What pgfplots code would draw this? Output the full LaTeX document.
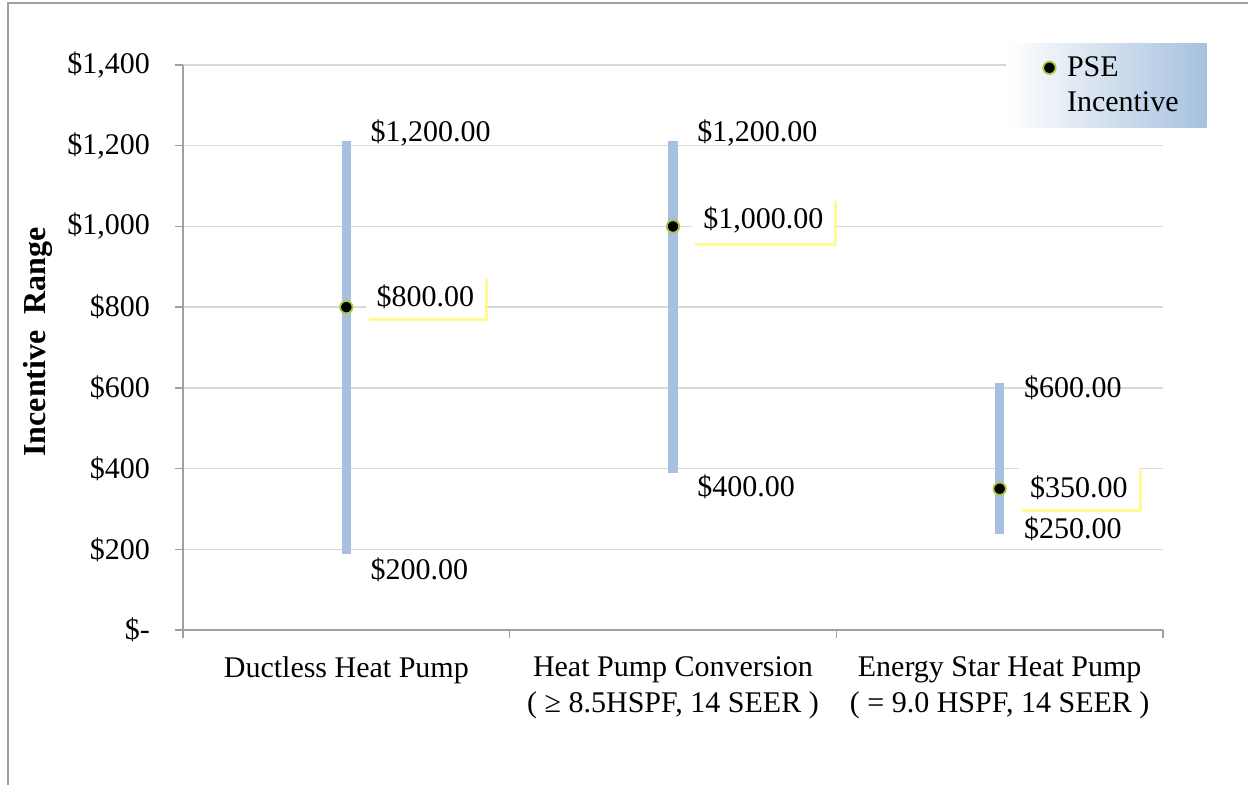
\documentclass[border=0pt]{standalone}
\usepackage{fontspec}
\setmainfont{Liberation Serif}
\usepackage{pgfplots}
\pgfplotsset{compat=1.18}
\usepackage{pgfplotstable}
\usetikzlibrary{shadows}

\definecolor{rangeblue}{RGB}{167,192,224}
\definecolor{gridgray}{RGB}{217,217,217}
\definecolor{axisgray}{RGB}{160,160,160}
\definecolor{dotrim}{RGB}{172,198,64}
\definecolor{legendblue}{RGB}{166,193,222}
\definecolor{glow}{RGB}{255,248,110}

% upper end of each incentive range (dy = vertical label offset in pt)
\pgfplotstableread{
x y dy
0 1200 6.5
1 1200 6.5
2 600 0
}\hightable
% lower end of each incentive range
\pgfplotstableread{
x y dy
0 200 -10
1 400 -9
2 250 0
}\lowtable
% PSE incentive
\pgfplotstableread{
x y dy
0 800 5
1 1000 3
2 350 0.5
}\psetable

\newcommand{\money}{\$\pgfmathprintnumber[fixed,fixed zerofill,precision=2,1000 sep={,}]{\pgfplotspointmeta}}

\begin{document}
\begin{tikzpicture}[font=\fontsize{15}{18}\selectfont]
\useasboundingbox (0,0) rectangle (624pt,392pt);
\draw[axisgray, line width=0.8pt] (4pt,-20pt) rectangle (660pt,390.5pt);
\begin{axis}[
  at={(91.5pt,77pt)}, anchor=south west,
  scale only axis, width=490pt, height=282.5pt,
  xmin=-0.5, xmax=2.5, ymin=0, ymax=1400,
  axis x line*=bottom, axis y line*=left,
  axis line style={axisgray, line width=0.7pt, -},
  tick align=outside, major tick length=4pt,
  tick style={axisgray, line width=0.7pt},
  xtick={-0.5,0.5,1.5,2.5}, xticklabels={,,,},
  extra x ticks={0,1,2},
  extra x tick labels={Ductless Heat Pump,
    {Heat Pump Conversion\\( ≥ 8.5HSPF, 14 SEER )},
    {Energy Star Heat Pump\\( = 9.0 HSPF, 14 SEER )}},
  extra x tick style={major tick length=0pt, grid=none,
    xticklabel style={align=center, yshift=-10pt}},
  ytick={0,200,...,1400},
  yticklabels={\$-,\$200,\$400,\$600,\$800,\$1{,}000,\$1{,}200,\$1{,}400},
  yticklabel style={xshift=-9pt},
  /pgf/number format/assume math mode=true,
  ymajorgrids, grid style={gridgray, line width=0.7pt},
  ylabel={\fontsize{16}{18}\selectfont\bfseries Incentive\ \ Range},
  ylabel style={at={(axis description cs:-0.148,0.51)}, anchor=center},
  clip=false,
  legend style={at={(axis description cs:1.0449,1.039)}, anchor=north east,
    draw=none, left color=white, right color=legendblue,
    inner xsep=12.5pt, inner ysep=5pt, row sep=3pt,
    nodes={inner sep=1.5pt}},
  legend cell align=left,
  legend image code/.code={\path[draw=none,fill=none,shade=none] (-0.32cm,0) -- (0.256cm,0);
    \path[mark repeat=2,mark phase=2,#1,draw=none]
    plot coordinates {(-0.1cm,0cm)(0cm,0cm)(0.1cm,0cm)};},
]
% incentive ranges
\addplot[rangeblue, line width=4.6pt, line cap=rect, forget plot] coordinates {(0,200) (0,1200)};
\addplot[rangeblue, line width=4.6pt, line cap=rect, forget plot] coordinates {(1,400) (1,1200)};
\addplot[rangeblue, line width=4.6pt, line cap=rect, forget plot] coordinates {(2,250) (2,600)};

% range end labels
\addplot[draw=none, mark=none, forget plot, point meta=y,
  visualization depends on={\thisrow{dy}\as\dy},
  nodes near coords={\money},
  nodes near coords style={anchor=west, inner sep=0pt, xshift=12pt, yshift=\dy pt, text=black}]
  table[x=x,y=y]{\hightable};
\addplot[draw=none, mark=none, forget plot, point meta=y,
  visualization depends on={\thisrow{dy}\as\dy},
  nodes near coords={\money},
  nodes near coords style={anchor=west, inner sep=0pt, xshift=12pt, yshift=\dy pt, text=black}]
  table[x=x,y=y]{\lowtable};

% PSE incentive labels
\addplot[draw=none, mark=none, forget plot, point meta=y,
  visualization depends on={\thisrow{dy}\as\dy},
  nodes near coords={\money},
  nodes near coords style={anchor=west, fill=white, inner xsep=5.5pt, inner ysep=4.5pt,
    xshift=9.5pt, yshift=\dy pt, text=black,
    drop shadow={shadow xshift=1.5pt, shadow yshift=-1.5pt, fill=glow, opacity=0.75}}]
  table[x=x,y=y]{\psetable};

% PSE incentive points
\addplot[only marks, mark=*, mark size=3.1pt,
  mark options={fill=black, draw=dotrim, line width=0.9pt}]
  table[x=x,y=y]{\psetable};
\addlegendentry{PSE}
\addlegendimage{empty legend}
\addlegendentry{Incentive}
\end{axis}
\end{tikzpicture}
\end{document}
